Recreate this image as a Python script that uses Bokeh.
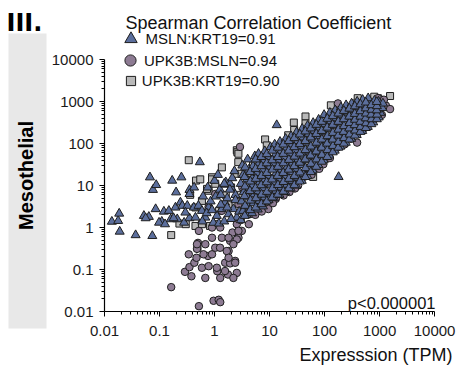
import math
from bokeh.plotting import figure
from bokeh.layouts import row, column
from bokeh.models import (ColumnDataSource, Label, Legend, LegendItem, FixedTicker,
                          CustomJSTickFormatter, BoxAnnotation, Title)
from bokeh.embed import file_html
from bokeh.resources import INLINE

# ---------------- data (TPM) ----------------
series_names = ["MSLN:KRT19", "UPK3B:MSLN", "UPK3B:KRT19"]
spearman_r = ["0.91", "0.94", "0.90"]

mslN_krt19 = [
    (0.0136, 1.38), (0.0177, 1.44), (0.0185, 2.15), (0.0189, 0.80), (0.0368, 0.66), (0.074, 0.63),
    (0.052, 1.9), (0.064, 1.8), (0.085, 2.75), (0.11, 1.38), (0.12, 2.4), (0.148, 2.5), (0.16, 1.58),
    (0.195, 3.0), (0.21, 1.58), (0.24, 3.95), (0.26, 3.3), (0.28, 1.31), (0.32, 3.3), (0.35, 1.67),
    (0.42, 3.0), (0.51, 3.3), (0.59, 2.5), (0.056, 1.67), (0.098, 1.31), (0.126, 1.2), (0.18, 1.67),
    (0.295, 2.28), (0.45, 1.73), (0.68, 1.73), (0.78, 3.0), (1.1, 1.9), (1.36, 2.75), (1.55, 3.95),
    (1.8, 2.08), (2.2, 2.75), (2.54, 1.73),
    (0.067, 15.7), (0.076, 7.9), (0.087, 10.3), (0.17, 13.1), (0.2, 6.9), (0.25, 15.7), (0.35, 7.9),
    (0.425, 9.0), (0.54, 36), (0.35, 6.3),
    (0.6, 1.4), (0.72, 2.2), (0.9, 2.6), (0.95, 1.3), (1.2, 1.25), (1.3, 3.5), (0.85, 4.2), (1.05, 5.5),
    (1.5, 1.4), (1.7, 5), (2.0, 1.6), (0.62, 5.5), (0.75, 9), (1.0, 13), (1.25, 8), (1.6, 12), (2.0, 9),
    (2.4, 6), (2.8, 2.4), (1.15, 18), (1.92, 11), (1.55, 10.5),
    (1.3, 6), (1.5, 11), (1.9, 8), (2.1, 15), (2.4, 4.5), (2.3, 22), (1.7, 3),
    (3.0, 1.5), (3.3, 2.5), (3.1, 4.2), (3.4, 7), (3.0, 11), (3.3, 18), (3.2, 30),
    (3.8, 2.0), (4.1, 3.2), (4.0, 5.2), (4.3, 8.8), (3.9, 14), (4.2, 24), (4.0, 42),
    (4.8, 2.2), (5.1, 3.8), (5.3, 6.2), (4.9, 10), (5.2, 17), (5.0, 29), (5.4, 50),
    (6.1, 2.7), (6.5, 4.3), (6.2, 7.2), (6.6, 12), (6.0, 20), (6.4, 34), (6.3, 57),
    (7.6, 3.2), (8.1, 5.2), (7.8, 8.7), (8.3, 14), (7.7, 24), (8.0, 40), (8.2, 66),
    (9.6, 4.5), (10.2, 6.5), (10.5, 10.5), (9.8, 17), (10.1, 28), (9.7, 48), (10.4, 82),
    (12.1, 5), (13.0, 7.5), (12.5, 12), (13.2, 20), (12.2, 34), (12.9, 57), (12.4, 95),
    (15.2, 6), (16.3, 9), (15.6, 14.5), (16.5, 24), (15.0, 40), (16.1, 66), (15.5, 110),
    (19.3, 7), (20.8, 10.5), (19.8, 17), (21.0, 28), (19.1, 47), (20.5, 80), (19.6, 130),
    (24.2, 8.5), (25.8, 13), (24.8, 21), (26.3, 35), (24.0, 58), (25.5, 95), (24.6, 150),
    (30.5, 10), (32.8, 15.5), (31.2, 25), (33.0, 42), (30.2, 70), (32.2, 115), (31.0, 185),
    (38.5, 13), (41.5, 19), (39.6, 31), (42.0, 52), (38.2, 85), (40.8, 140), (39.2, 225),
    (48.5, 17), (52.0, 25), (49.5, 40), (52.5, 65), (48.0, 105), (51.0, 170), (49.0, 265),
    (61, 23), (65.5, 33), (62.5, 50), (66, 80), (60.5, 125), (64.5, 200), (62, 310),
    (76.5, 31), (82, 45), (78.5, 65), (83, 100), (76, 150), (81, 240), (78, 370),
    (96.5, 40), (103.5, 58), (99, 85), (104, 125), (95.5, 185), (102, 290), (98, 480),
    (122, 52), (130, 75), (124.5, 105), (131, 150), (121, 220), (128, 340), (125, 540),
    (153, 68), (163, 95), (157, 130), (165, 185), (152, 265), (161, 400), (156, 620),
    (193, 85), (206, 120), (197, 160), (208, 225), (191, 320), (203, 470), (198, 720),
    (243, 105), (259, 145), (248, 200), (262, 270), (240, 380), (255, 550), (246, 820),
    (305, 130), (326, 180), (312, 240), (330, 330), (302, 450), (321, 640), (310, 900),
    (384, 160), (410, 220), (393, 290), (415, 390), (380, 530), (404, 730), (391, 1000),
    (484, 200), (516, 270), (495, 350), (522, 470), (478, 620), (509, 850), (492, 1100),
    (610, 250), (650, 330), (623, 430), (657, 560), (602, 730), (640, 950), (620, 1200),
    (767, 320), (818, 420), (785, 540), (827, 680), (758, 860), (806, 1050),
    (965, 420), (1030, 540), (988, 680), (1040, 850), (955, 1000),
    (1120, 700), (1150, 900),
    (13.5, 275), (180, 16),
    # interleaved points of the dense band
    (3.55, 1.9), (3.6, 3.3), (3.5, 5.6), (3.58, 9.5), (3.52, 16), (3.6, 27),
    (4.45, 2.6), (4.5, 4.4), (4.4, 7.4), (4.48, 12.5), (4.42, 21),
    (5.6, 3.0), (5.65, 5.0), (5.55, 8.6), (5.62, 14.5), (5.58, 25), (5.6, 42),
    (7.1, 3.6), (7.15, 6.1), (7.05, 10.2), (7.12, 17), (7.08, 29), (7.1, 48),
    (8.9, 4.2), (8.95, 7.1), (8.85, 12), (8.92, 20), (8.88, 34), (8.9, 56),
    (11.2, 5.2), (11.3, 8.6), (11.1, 14), (11.25, 24), (11.15, 40), (11.2, 68),
    (14.1, 6.1), (14.2, 10.3), (14.0, 17), (14.15, 28), (14.05, 48), (14.1, 80),
    (17.8, 7.2), (17.9, 12.2), (17.7, 20), (17.85, 34), (17.75, 57), (17.8, 95),
    (22.4, 8.6), (22.5, 14.5), (22.3, 24), (22.45, 41), (22.35, 68), (22.4, 115),
    (28.2, 10.2), (28.4, 17), (28.0, 29), (28.3, 49), (28.1, 82), (28.2, 135),
    (35.5, 12.5), (35.7, 20.5), (35.3, 35), (35.6, 58), (35.4, 97), (35.5, 165),
    (44.7, 16), (45.0, 26), (44.4, 42), (44.8, 70), (44.6, 115), (44.7, 195),
    (56.2, 21), (56.6, 33), (55.8, 52), (56.4, 85), (56.0, 140), (56.2, 230),
    (70.8, 28), (71.3, 42), (70.3, 65), (71.0, 105), (70.5, 170), (70.8, 280),
    (89, 37), (89.6, 54), (88.4, 80), (89.3, 125), (88.7, 200), (89, 330),
    (112, 48), (113, 70), (111, 100), (112.5, 150), (111.5, 240), (112, 390),
    (141, 62), (142, 88), (140, 125), (141.5, 180), (140.5, 280), (141, 450),
    (178, 80), (179, 110), (177, 155), (178.5, 215), (177.5, 330), (178, 520),
    (224, 100), (226, 135), (222, 190), (225, 260), (223, 380), (224, 600),
    (282, 125), (284, 165), (280, 230), (283, 310), (281, 440), (282, 680),
    (355, 155), (358, 205), (352, 275), (356, 370), (354, 510), (355, 770),
    (447, 190), (450, 250), (444, 330), (448, 440), (446, 590), (447, 860),
    (562, 235), (566, 305), (558, 400), (564, 520), (560, 690), (562, 950),
    (708, 290), (713, 380), (703, 490), (710, 640), (706, 820),
    (891, 380), (897, 490), (885, 620), (894, 780), (888, 980),
]

upk3b_msln = [
    (0.163, 0.038), (0.52, 0.0134), (0.96, 0.018), (1.19, 0.019), (1.27, 0.0167), (0.29, 0.088),
    (0.38, 0.069), (0.35, 0.114), (0.43, 0.145), (0.47, 0.19), (0.5, 0.43), (0.59, 0.11), (0.68, 0.063),
    (0.78, 0.12), (0.76, 0.21), (0.9, 0.23), (1.03, 0.33), (1.12, 0.091), (1.26, 0.33), (1.36, 0.57),
    (1.56, 0.145), (1.75, 0.076), (1.8, 0.275), (1.92, 0.48), (2.12, 0.76), (2.37, 0.16), (2.54, 0.083),
    (2.72, 0.57), (2.54, 1.2), (3.13, 0.83), (3.6, 2.5), (4.1, 2.1), (0.34, 0.23), (0.63, 0.23),
    (0.68, 0.4), (1.27, 0.063), (0.52, 0.83), (0.9, 0.57), (0.9, 1.0), (1.27, 1.0), (1.92, 0.14),
    (0.48, 0.31), (2.2, 0.063), (2.72, 0.83), (2.54, 0.52), (1.8, 0.57), (2.2, 0.4), (1.67, 0.275),
    (1.8, 0.19), (2.37, 0.145), (1.55, 0.092), (1.1, 0.11), (4.5, 2.1), (6.7, 3.0), (2.72, 3.6),
    (1.03, 6.3), (2.9, 83), (0.78, 3.1), (1.36, 2.5), (0.48, 0.4),
    (3.0, 1.5), (3.5, 2.8), (4.2, 1.2), (4.5, 5), (5.5, 2.2), (3.2, 9), (5, 14),
    (6.5, 2.6), (7.5, 3.5), (9, 4.2), (6, 6), (8, 9), (10, 5.5), (7, 16), (9.5, 25),
    (11, 6), (13, 4.8), (15, 7.5), (12, 12), (17, 10), (20, 8), (14, 30), (18, 20), (22, 45),
    (24, 9.5), (27, 14), (32, 12), (30, 22), (36, 18), (26, 60), (38, 35), (40, 100),
    (42, 16), (48, 25), (55, 20), (60, 35), (70, 28), (52, 60), (65, 150), (75, 50), (45, 200),
    (85, 40), (95, 32), (110, 55), (125, 45), (140, 70), (100, 150), (130, 300), (160, 110), (175, 900),
    (170, 80), (200, 110), (230, 95), (260, 150), (300, 130), (210, 400), (280, 250), (320, 600),
    (350, 200), (390, 105), (400, 180), (450, 250), (520, 230), (600, 320), (480, 700), (560, 500),
    (650, 900), (700, 400), (800, 380), (900, 550), (1000, 700), (930, 1200), (1100, 480),
    (1300, 800), (1550, 660), (1200, 1100),
    (9.5, 2.75), (13.5, 8.4), (33, 10), (5.5, 2.0), (7.2, 2.4), (11.5, 3.8), (18, 5.8), (23, 7),
    (29, 8.5), (58, 18), (80, 25),
]

upk3b_krt19 = [
    (0.34, 40), (0.163, 0.66), (0.46, 13.1), (0.36, 6.0), (0.23, 1.24), (0.45, 1.09), (0.49, 0.33),
    (0.59, 4.3), (0.9, 15.7), (1.03, 11), (0.78, 7.5), (0.59, 1.2), (1.03, 1.2), (2.54, 69), (2.7, 36),
    (2.37, 19), (0.73, 8.3), (0.55, 14), (1.36, 27), (0.83, 1.09), (0.45, 3.0), (0.3, 1.2), (2.6, 62),
    (8.3, 125), (8.9, 90), (21.8, 157), (27.6, 315), (28, 210), (45, 440), (45, 300), (130, 810),
    (62, 16), (930, 1200), (1550, 1350), (0.9, 14), (3.1, 19), (2.72, 57),
    (1.2, 2.5), (1.8, 3.5), (3, 6), (5, 12), (15, 25), (30, 40), (50, 100), (80, 200), (150, 350),
    (250, 500), (400, 700), (600, 1000), (1000, 1100), (120, 60), (200, 90), (300, 200), (500, 400),
    (700, 600), (12, 40), (18, 60), (5, 30), (7, 45), (4, 20), (1.6, 6), (2, 9), (60, 250), (90, 350),
    (200, 650), (350, 900), (800, 1300), (400, 1200),
]

x_ticks = [0.01, 0.1, 1, 10, 100, 1000, 10000]
y_ticks = [0.01, 0.1, 1, 10, 100, 1000, 10000]

panel_label = "III."
row_label = "Mesothelial"
legend_title = "Spearman Correlation Coefficient"
p_text = "p<0.000001"
x_title = "Expresssion (TPM)"

# ---------------- styling ----------------
FONT = "Liberation Sans"
TRI_FILL = "#5b6e9c"
CIR_FILL = "#8d7b93"
SQ_FILL = "#b9b9b9"
EDGE = "#1e1e1e"

W, H = 458, 369
STRIP = 48                # left strip with panel letter and row label
FL, FB = 102, 311         # frame left / bottom (canvas px)
DEC_X, DEC_Y = 55.33, 42.0  # pixels per decade

# ---------- left strip ----------
s = figure(width=STRIP, height=H, x_range=(0, STRIP), y_range=(H, 0),
           x_axis_location=None, y_axis_location=None,
           output_backend="svg", toolbar_location=None,
           min_border_left=0, min_border_right=0, min_border_top=0, min_border_bottom=0)
s.title = None
s.outline_line_color = None
s.grid.visible = False
s.background_fill_color = "white"
s.border_fill_color = "white"
s.add_layout(BoxAnnotation(left=8, right=46, top=33, bottom=328, fill_color="#e8e8e8",
                           fill_alpha=1, line_color=None))
s.add_layout(Label(x=25.5, y=175, text=row_label, text_font=FONT, text_font_style="bold",
                   text_font_size="20px", text_color="black", angle=math.pi / 2,
                   text_align="center", text_baseline="middle"))
s.add_layout(Label(x=6, y=22, text=panel_label, text_font="DejaVu Sans", text_font_style="bold",
                   text_font_size="24px", text_color="black", text_baseline="alphabetic"))

# ---------- main plot ----------
PW = W - STRIP
x_end = 10 ** (-2 + (W - FL) / DEC_X)
y_end = 10 ** (-2 + FB / DEC_Y)
p = figure(width=PW, height=H, x_axis_type="log", y_axis_type="log",
           x_range=(0.01, x_end), y_range=(0.01, y_end),
           output_backend="svg", toolbar_location=None,
           min_border_left=FL - STRIP, min_border_right=0,
           min_border_top=0, min_border_bottom=H - FB)
p.title = None
p.outline_line_color = None
p.grid.visible = False
p.background_fill_color = "white"
p.border_fill_color = "white"

minor = [m * 10.0 ** e for e in range(-2, 4) for m in range(2, 10)]
fmt = CustomJSTickFormatter(code="return String(tick);")
for ax, ticks in ((p.xaxis[0], x_ticks), (p.yaxis[0], y_ticks)):
    ax.ticker = FixedTicker(ticks=ticks, minor_ticks=minor)
    ax.formatter = fmt
    ax.bounds = (ticks[0], ticks[-1])
    ax.axis_line_color = "black"
    ax.axis_line_width = 1.2
    ax.major_tick_line_color = "black"
    ax.minor_tick_line_color = "black"
    ax.major_tick_out = 5
    ax.major_tick_in = 0
    ax.minor_tick_out = 3
    ax.minor_tick_in = 0
    ax.major_label_text_font = FONT
    ax.major_label_text_font_size = "15px"
    ax.major_label_text_color = "#1a1a1a"
p.xaxis[0].major_label_standoff = 9
p.yaxis[0].major_label_standoff = 6


def src(points):
    return ColumnDataSource(dict(x=[a for a, b in points], y=[b for a, b in points]))


r_sq = p.scatter("x", "y", source=src(upk3b_krt19), marker="square", size=7,
                 fill_color=SQ_FILL, line_color=EDGE, line_width=1)
r_ci = p.scatter("x", "y", source=src(upk3b_msln), marker="circle", size=7.5,
                 fill_color=CIR_FILL, line_color=EDGE, line_width=1)
r_tr = p.scatter("x", "y", source=src(mslN_krt19), marker="triangle", size=9,
                 fill_color=TRI_FILL, line_color=EDGE, line_width=1)


def X(px):
    return px - FL


def Y(py):
    return FB - py


# legend: one legend per entry so each glyph gets its own size
leg_specs = [
    (r_tr, 31, 128.0, 38.5, -3),
    (r_ci, 28, 128.0, 60.0, -2),
    (r_sq, 23, 128.3, 80.0, 0),
]
for (rend, box, cx, cy, stand), name, rv in zip(leg_specs, series_names, spearman_r):
    leg = Legend(items=[LegendItem(label=f"{name}={rv}", renderers=[rend])],
                 location=(X(cx - box / 2), Y(cy + box / 2)),
                 glyph_width=box, glyph_height=box, label_height=box,
                 label_standoff=stand, padding=0, margin=0, spacing=0,
                 border_line_color=None, background_fill_alpha=0,
                 label_text_font=FONT, label_text_font_size="15px",
                 label_text_color="#111111")
    p.add_layout(leg, "center")

p.add_layout(Label(x=X(123), y=Y(22.7), x_units="screen", y_units="screen",
                   text=legend_title, text_font=FONT, text_font_size="18px",
                   text_color="#111111", text_baseline="alphabetic"))

p.add_layout(Label(x=X(433), y=Y(302), x_units="screen", y_units="screen",
                   text=p_text, text_font=FONT, text_font_size="16.5px",
                   text_color="#111111", text_align="right", text_baseline="alphabetic"))

p.add_layout(Title(text=x_title, align="right", offset=6, text_font=FONT,
                   text_font_size="18px", text_font_style="normal",
                   text_color="#111111", standoff=8), "below")

layout = row(column(s), p, spacing=0)
open("out.html", "w").write(file_html(layout, INLINE))
